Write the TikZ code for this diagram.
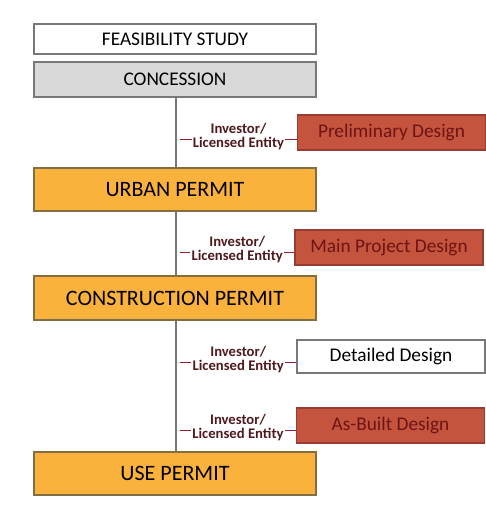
\documentclass[tikz,border=0pt]{standalone}
\usepackage{fontspec}
\setmainfont{Carlito}
\usepackage{tikz}

\definecolor{permitorange}{RGB}{250,178,60}
\definecolor{designred}{RGB}{196,84,62}
\definecolor{designtext}{RGB}{110,20,20}
\definecolor{concgray}{RGB}{217,217,217}
\definecolor{edgegray}{RGB}{120,120,120}
\definecolor{labelred}{RGB}{150,30,50}

\tikzset{
  stagebox/.style={draw=edgegray, line width=1pt, minimum width=282*0.75pt, inner sep=0pt, font=\fontsize{14.5}{16}\selectfont},
  permitbox/.style={stagebox, fill=permitorange, draw={rgb,255:red,130;green,110;blue,70}, minimum height=43*0.75pt, font=\fontsize{16.5}{18}\selectfont},
  designbox/.style={draw={rgb,255:red,150;green,60;blue,50}, line width=0.8pt, fill=designred, text=designtext, minimum width=188*0.75pt, minimum height=35*0.75pt, inner sep=0pt, font=\fontsize{14.5}{16}\selectfont},
  entitylabel/.style={fill=white, inner sep=1pt, align=center, font=\bfseries\fontsize{11}{10.5}\selectfont, text={rgb,255:red,80;green,25;blue,30}}
}

\begin{document}
\begin{tikzpicture}[x=0.75pt,y=0.75pt,yscale=-1,xscale=1]
\useasboundingbox (0,0) rectangle (486,508); %set diagram size to the reference

% Text Node
\node [stagebox, fill=white, minimum height=30*0.75pt] (feas) at (175,39) {FEASIBILITY STUDY};
% Text Node
\node [stagebox, fill=concgray, minimum height=35*0.75pt] (conc) at (175,79.5) {CONCESSION};
% Text Node
\node [permitbox] (urban) at (175,189.5) {URBAN PERMIT};
% Text Node
\node [permitbox, minimum height=44*0.75pt] (constr) at (175,298) {CONSTRUCTION PERMIT};
% Text Node
\node [permitbox] (use) at (175,473.5) {USE PERMIT};

% Text Node
\node [designbox] (prelim) at (391.5,132.5) {Preliminary Design};
% Text Node
\node [designbox] (mainproj) at (389,247.5) {Main Project Design};
% Text Node
\node [designbox, fill=white, text=black, draw=edgegray, minimum height=33*0.75pt] (detail) at (391,356.5) {Detailed Design};
% Text Node
\node [designbox] (asbuilt) at (390.5,425.5) {As-Built Design};

%Straight Lines
\draw [edgegray, line width=0.8pt] (conc.south -| 176,0) -- (urban.north -| 176,0);
\draw [edgegray, line width=0.8pt] (urban.south -| 176,0) -- (constr.north -| 176,0);
\draw [edgegray, line width=0.8pt] (constr.south -| 176,0) -- (use.north -| 176,0);

%Straight Lines
\coordinate (tap1) at (180,139);
\coordinate (tap2) at (180,252);
\coordinate (tap3) at (180,362);
\coordinate (tap4) at (180,430);
\draw [labelred, line width=0.6pt] (tap1) -- (tap1 -| prelim.west) node [midway, entitylabel, yshift=2pt] (ent1) {Investor/\\Licensed Entity};
\draw [labelred, line width=0.6pt] (tap2) -- (tap2 -| mainproj.west) node [midway, entitylabel, yshift=2pt] (ent2) {Investor/\\Licensed Entity};
\draw [labelred, line width=0.6pt] (tap3) -- (tap3 -| detail.west) node [midway, entitylabel, yshift=2pt] (ent3) {Investor/\\Licensed Entity};
\draw [labelred, line width=0.6pt] (tap4) -- (tap4 -| asbuilt.west) node [midway, entitylabel, yshift=2pt] (ent4) {Investor/\\Licensed Entity};

\end{tikzpicture}
\end{document}
